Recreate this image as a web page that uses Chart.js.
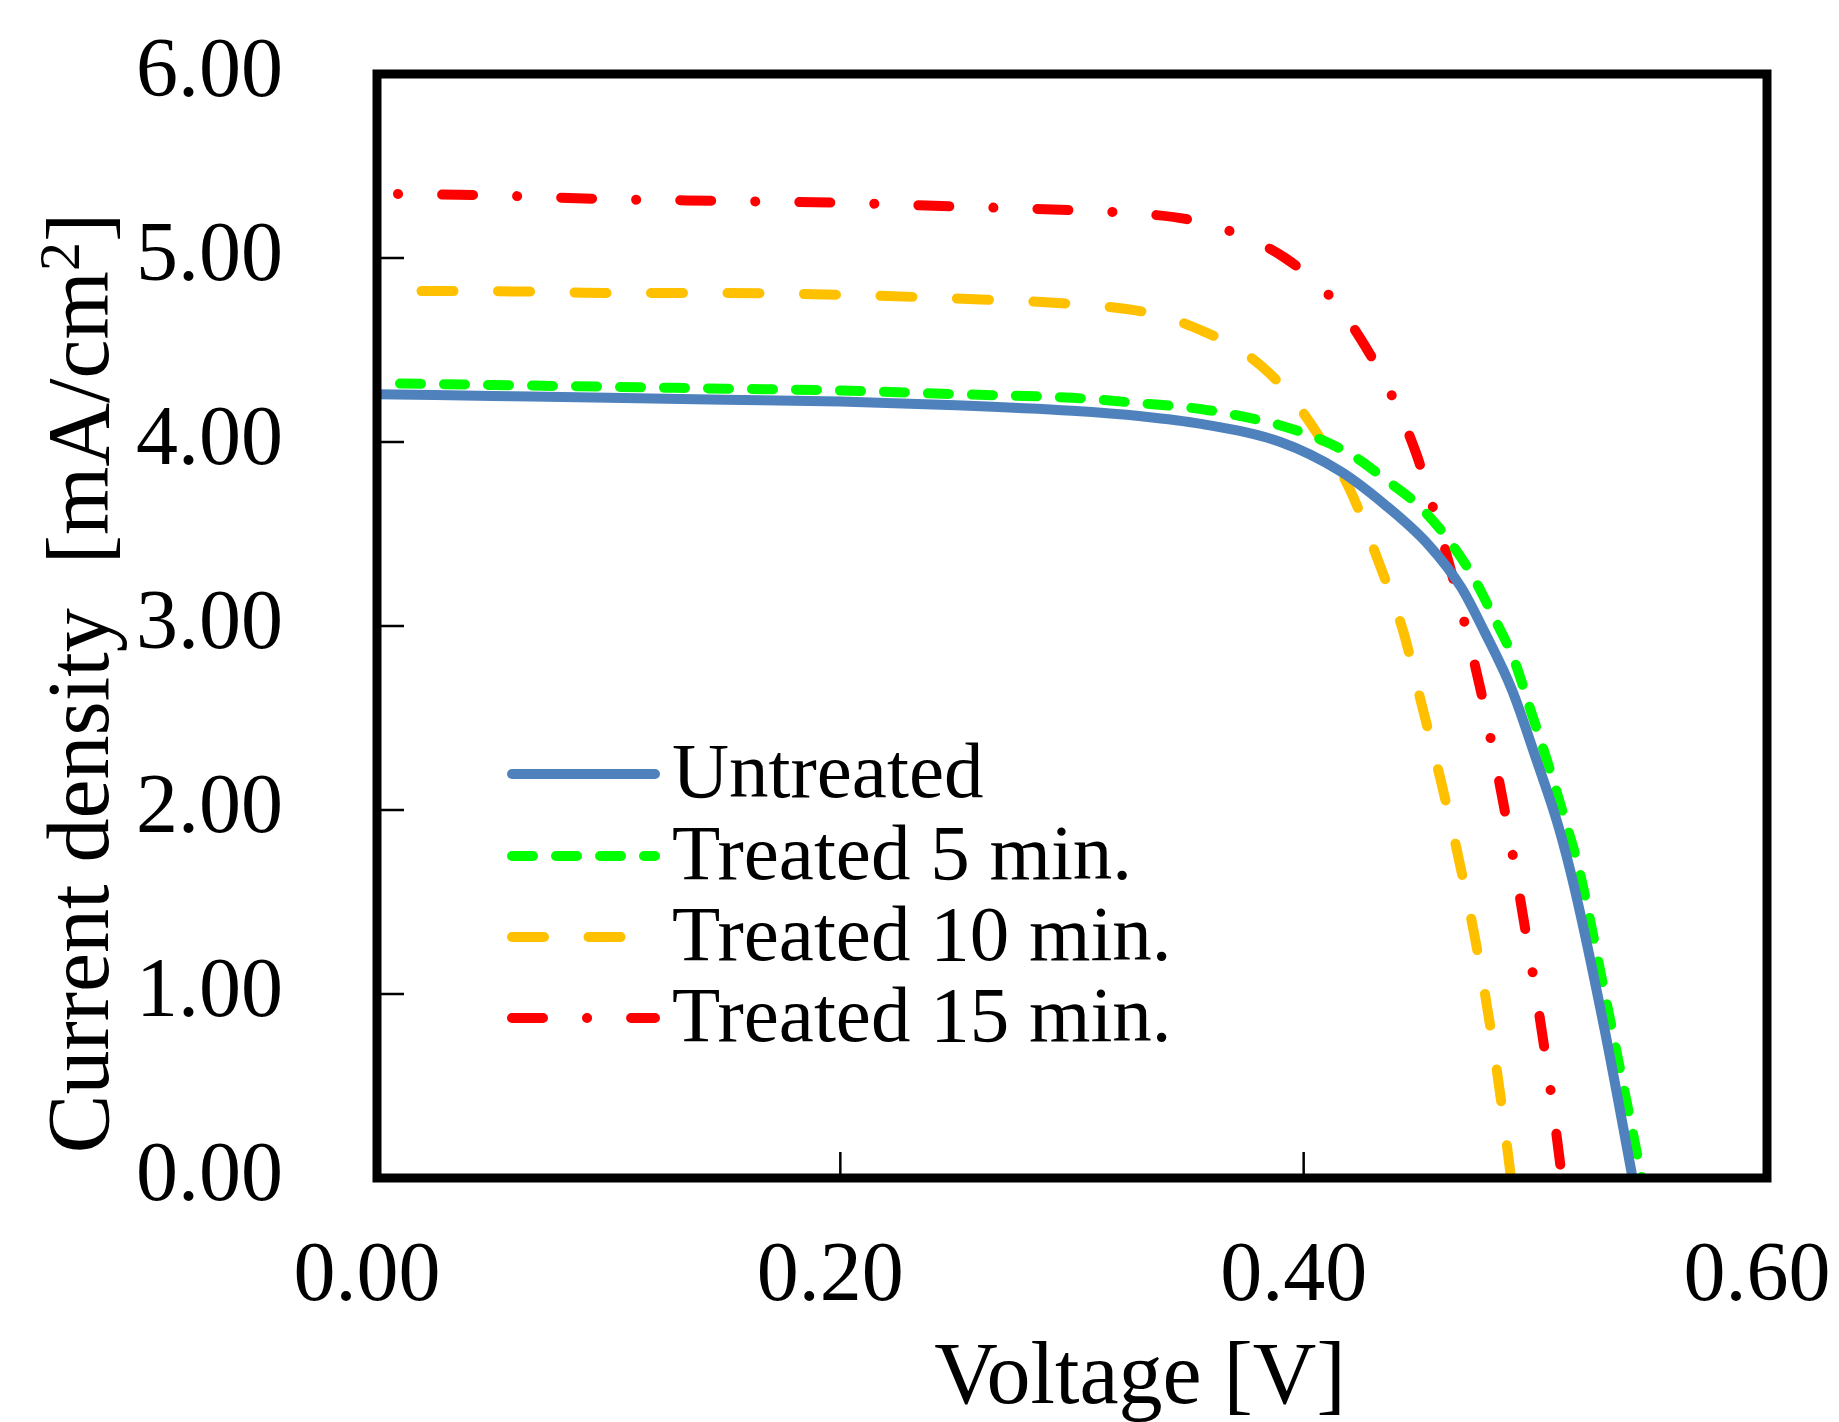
<!DOCTYPE html>
<html>
<head>
<meta charset="utf-8">
<script src="https://cdn.jsdelivr.net/npm/chart.js@4.4.1/dist/chart.umd.min.js"></script>
<style>
  html, body { margin: 0; padding: 0; background: #fff; }
  #wrap { width: 1839px; height: 1422px; position: relative; }
</style>
</head>
<body>
<div id="wrap"><canvas id="ivChart"></canvas></div>
<script>
// values: V in volts, J in mA/cm2
const xTicks = [0, 0.2, 0.4, 0.6];
const yTicks = [0, 1, 2, 3, 4, 5, 6];

const seriesNames = ['Untreated', 'Treated 5 min.', 'Treated 10 min.', 'Treated 15 min.'];

const vUntreated = [0, 0.05, 0.1, 0.15, 0.2, 0.25, 0.3, 0.33, 0.355, 0.39, 0.416, 0.435, 0.454, 0.468, 0.478, 0.49, 0.5, 0.51, 0.517, 0.53, 0.542];
const jUntreated = [4.26, 4.25, 4.24, 4.23, 4.22, 4.2, 4.17, 4.14, 4.1, 4.0, 3.84, 3.66, 3.44, 3.21, 2.97, 2.65, 2.29, 1.91, 1.57, 0.8, 0];

const v5min = [0, 0.05, 0.1, 0.15, 0.2, 0.25, 0.3, 0.33, 0.355, 0.373, 0.39, 0.408, 0.422, 0.436, 0.45, 0.463, 0.473, 0.482, 0.491, 0.498, 0.505, 0.512, 0.519, 0.53, 0.546];
const j5min = [4.32, 4.31, 4.3, 4.29, 4.28, 4.26, 4.24, 4.21, 4.18, 4.14, 4.09, 4.01, 3.92, 3.79, 3.65, 3.46, 3.27, 3.05, 2.81, 2.54, 2.27, 1.98, 1.67, 1.0, 0];

const v10min = [0, 0.05, 0.1, 0.15, 0.2, 0.25, 0.3, 0.33, 0.345, 0.357, 0.37, 0.382, 0.393, 0.403, 0.42, 0.432, 0.443, 0.451, 0.459, 0.4665, 0.4737, 0.478, 0.483, 0.4875, 0.4895];
const j10min = [4.82, 4.82, 4.81, 4.81, 4.8, 4.78, 4.75, 4.71, 4.66, 4.6, 4.52, 4.41, 4.27, 4.1, 3.74, 3.36, 2.97, 2.57, 2.17, 1.76, 1.32, 1.02, 0.62, 0.2, 0];

const v15min = [0, 0.05, 0.1, 0.15, 0.2, 0.25, 0.3, 0.33, 0.35, 0.3695, 0.392, 0.4115, 0.4266, 0.4389, 0.4485, 0.4564, 0.4634, 0.47, 0.4766, 0.481, 0.4863, 0.4906, 0.495, 0.4993, 0.503, 0.507, 0.5115];
const j15min = [5.35, 5.34, 5.32, 5.31, 5.3, 5.28, 5.26, 5.24, 5.21, 5.14, 5.0, 4.79, 4.52, 4.23, 3.94, 3.62, 3.31, 2.99, 2.64, 2.37, 2.03, 1.73, 1.4, 1.08, 0.78, 0.44, 0];

function pts(xs, ys) {
  return xs.map((x, i) => ({ x: x, y: ys[i] }));
}

const serif = "'Liberation Serif', 'Times New Roman', serif";
Chart.defaults.font.family = serif;
Chart.defaults.color = '#000';

// black frame + small inward ticks
const framePlugin = {
  id: 'frame',
  afterDatasetsDraw(chart) {
    const ctx = chart.ctx, a = chart.chartArea;
    const xs = chart.scales.x, ys = chart.scales.y;
    ctx.save();
    ctx.strokeStyle = '#000';
    ctx.lineWidth = 2.5;
    ctx.beginPath();
    yTicks.forEach(t => {
      const py = ys.getPixelForValue(t);
      ctx.moveTo(a.left, py);
      ctx.lineTo(a.left + 27, py);
    });
    xTicks.forEach(t => {
      const px = xs.getPixelForValue(t);
      ctx.moveTo(px, a.bottom);
      ctx.lineTo(px, a.bottom - 26);
    });
    ctx.stroke();
    ctx.lineWidth = 9;
    ctx.lineJoin = 'miter';
    ctx.strokeRect(a.left, a.top, a.right - a.left, a.bottom - a.top);
    ctx.restore();
  }
};

// legend inside the plot, lower left
const legendPlugin = {
  id: 'insideLegend',
  afterDraw(chart) {
    const ctx = chart.ctx, a = chart.chartArea;
    const x0 = a.left + 135, x1 = a.left + 278;
    const rows = [700, 782, 863, 944];
    ctx.save();
    chart.data.datasets.forEach((ds, i) => {
      const y = a.top + rows[i];
      ctx.strokeStyle = ds.borderColor;
      ctx.lineWidth = ds.borderWidth;
      ctx.lineCap = 'round';
      ctx.setLineDash(ds.borderDash || []);
      ctx.lineDashOffset = 0;
      ctx.beginPath();
      ctx.moveTo(x0, y);
      ctx.lineTo(x1, y);
      ctx.stroke();
      ctx.setLineDash([]);
      ctx.fillStyle = '#000';
      ctx.font = '79px ' + serif;
      ctx.textBaseline = 'middle';
      ctx.textAlign = 'left';
      ctx.fillText(ds.label, a.left + 295, y + 2);
    });
    ctx.restore();
  }
};

// axis titles (the y title has a real superscript 2)
const titlePlugin = {
  id: 'axisTitles',
  afterDraw(chart) {
    const ctx = chart.ctx;
    ctx.save();
    ctx.fillStyle = '#000';
    ctx.font = '88px ' + serif;
    ctx.textAlign = 'center';
    ctx.textBaseline = 'alphabetic';
    ctx.fillText('Voltage [V]', 1140, 1403);

    const main = 'Current density  [mA/cm';
    ctx.font = '88px ' + serif;
    const wMain = ctx.measureText(main).width;
    const wClose = ctx.measureText(']').width;
    ctx.font = '58px ' + serif;
    const wSup = ctx.measureText('2').width;
    const total = wMain + wSup + wClose;
    ctx.translate(108, 683);
    ctx.rotate(-Math.PI / 2);
    ctx.textAlign = 'left';
    let x = -total / 2;
    ctx.font = '88px ' + serif;
    ctx.fillText(main, x, 0);
    x += wMain;
    ctx.font = '58px ' + serif;
    ctx.fillText('2', x, -29);
    x += wSup;
    ctx.font = '88px ' + serif;
    ctx.fillText(']', x, 0);
    ctx.restore();
  }
};

const ctx = document.getElementById('ivChart').getContext('2d');
new Chart(ctx, {
  type: 'line',
  data: {
    datasets: [{
      label: seriesNames[0],
      data: pts(vUntreated, jUntreated),
      borderColor: '#4F81BD',
      borderWidth: 10
    }, {
      label: seriesNames[1],
      data: pts(v5min, j5min),
      borderColor: '#00FF00',
      borderWidth: 10,
      borderDash: [21, 23],
      borderDashOffset: 21
    }, {
      label: seriesNames[2],
      data: pts(v10min, j10min),
      borderColor: '#FFC000',
      borderWidth: 10,
      borderDash: [32, 44.5],
      borderDashOffset: 32
    }, {
      label: seriesNames[3],
      data: pts(v15min, j15min),
      borderColor: '#FF0000',
      borderWidth: 10,
      borderDash: [31, 44, 0.1, 44],
      borderDashOffset: 54
    }].map(d => Object.assign(d, {
      pointRadius: 0,
      fill: false,
      borderCapStyle: 'round',
      borderJoinStyle: 'round',
      cubicInterpolationMode: 'monotone'
    }))
  },
  options: {
    responsive: true,
    maintainAspectRatio: false,
    animation: false,
    layout: { padding: { left: 0, right: 72, top: 74, bottom: 0 } },
    plugins: {
      legend: { display: false },
      tooltip: { enabled: false }
    },
    scales: {
      x: {
        type: 'linear',
        min: 0,
        max: 0.6,
        grid: { display: false, drawTicks: false },
        border: { display: false },
        afterBuildTicks: s => { s.ticks = xTicks.map(v => ({ value: v })); },
        afterFit: s => {
          s.height = 244;
          s.paddingLeft = 0; s.paddingRight = 0; s.paddingTop = 0; s.paddingBottom = 0;
        },
        ticks: {
          font: { size: 84 },
          padding: 50,
          labelOffset: -10,
          maxRotation: 0,
          callback: v => Number(v).toFixed(2)
        }
      },
      y: {
        type: 'linear',
        min: 0,
        max: 6,
        grid: { display: false, drawTicks: false },
        border: { display: false },
        afterBuildTicks: s => { s.ticks = yTicks.map(v => ({ value: v })); },
        afterFit: s => {
          s.width = 377;
          s.paddingLeft = 0; s.paddingRight = 0; s.paddingTop = 0; s.paddingBottom = 0;
        },
        ticks: {
          font: { size: 84 },
          padding: 94,
          callback: v => Number(v).toFixed(2)
        }
      }
    }
  },
  plugins: [framePlugin, legendPlugin, titlePlugin]
});
</script>
</body>
</html>
